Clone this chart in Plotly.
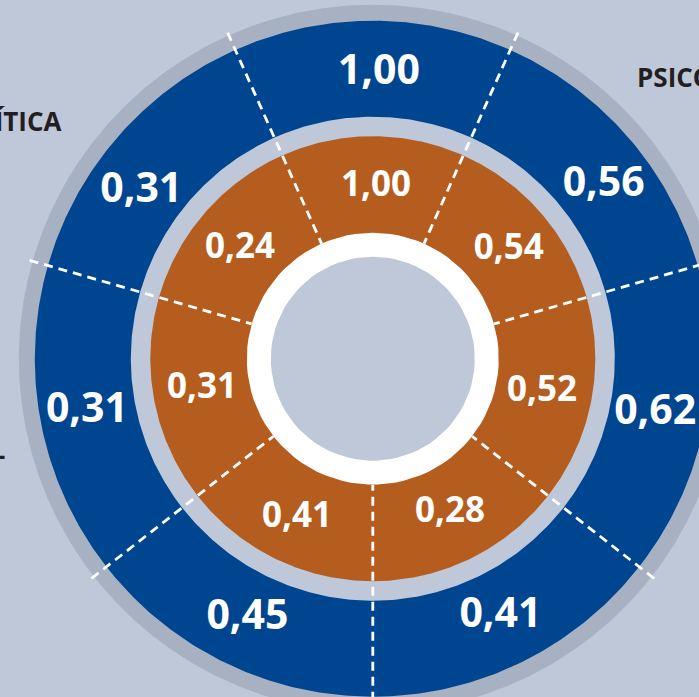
import numpy as np
import plotly.graph_objects as go

# ---------------- data ----------------
segment_start_deg = [-24, 24, 74, 128, 180, 232, 286]   # clockwise from top
outer_values = [1.00, 0.56, 0.62, 0.41, 0.45, 0.31, 0.31]
inner_values = [1.00, 0.54, 0.52, 0.28, 0.41, 0.31, 0.24]
side_labels = ["POLÍTICA", "PSICOLÓGICA", "SEXUAL"]

# ---------------- style ----------------
W, H = 699, 697
CX, CY = 372.8, 358.7          # centre in pixels (from top-left)
R_HOLE, R_WHITE, R_ORANGE = 102, 126, 222.5
R_BLUE_IN, R_BLUE_OUT, R_GRAY = 242, 338, 354
R_DASH = 357
BG = "#bfc8d8"
GRAY = "#a8b1c1"
BLUE = "#00458f"
ORANGE = "#b55d1e"
FS_OUT, FS_IN = 41, 35
# label placement (angle clockwise from top, radius in px)
outer_lab_deg = [1.2, 52.5, 100.3, 153.3, 206.1, 260.3, 306.5]
outer_lab_r = [289, 291, 287, 284, 285, 290, 288]
inner_lab_deg = [1.1, 50.6, 100.4, 153, 205.8, 260.7, 310.3]
inner_lab_r = [174, 176, 172, 170, 174, 173, 174]

seg_end_deg = segment_start_deg[1:] + [segment_start_deg[0] + 360]


def pol(r, deg):
    t = np.radians(deg)
    return np.asarray(r) * np.sin(t), np.asarray(r) * np.cos(t)


def sector(r0, r1, a0, a1, n=90):
    th = np.linspace(a0, a1, n)
    xo, yo = pol(r1, th)
    xi, yi = pol(r0, th[::-1])
    xs = np.concatenate([xo, xi, xo[:1]])
    ys = np.concatenate([yo, yi, yo[:1]])
    return list(xs), list(ys)


def ring_trace(r0, r1, starts, ends, color):
    X, Y = [], []
    for a0, a1 in zip(starts, ends):
        xs, ys = sector(r0, r1, a0, a1)
        X += xs + [None]
        Y += ys + [None]
    return go.Scatter(x=X, y=Y, mode="lines", fill="toself", fillcolor=color,
                      line=dict(width=0, color=color), hoverinfo="skip",
                      showlegend=False)


fig = go.Figure()
fig.add_trace(ring_trace(R_BLUE_OUT - 1, R_GRAY, [0], [360], GRAY))
fig.add_trace(ring_trace(R_BLUE_IN, R_BLUE_OUT, segment_start_deg, seg_end_deg, BLUE))
fig.add_trace(ring_trace(R_WHITE - 1, R_ORANGE, segment_start_deg, seg_end_deg, ORANGE))
fig.add_trace(ring_trace(R_HOLE, R_WHITE, [0], [360], "#ffffff"))

# dashed dividers
DX, DY = [], []
for a in segment_start_deg:
    x0, y0 = pol(R_DASH, a)
    x1, y1 = pol(R_WHITE, a)
    DX += [float(x0), float(x1), None]
    DY += [float(y0), float(y1), None]
fig.add_trace(go.Scatter(x=DX, y=DY, mode="lines",
                         line=dict(color="white", width=2.8, dash="9px,6px"),
                         hoverinfo="skip", showlegend=False))

# value labels
fmt = lambda v: f"{v:.2f}".replace(".", ",")
ox, oy = pol(outer_lab_r, np.array(outer_lab_deg))
ix, iy = pol(inner_lab_r, np.array(inner_lab_deg))
fig.add_trace(go.Scatter(x=ox, y=oy - 0.1 * FS_OUT, mode="text",
                         text=[fmt(v) for v in outer_values],
                         textposition="middle center",
                         textfont=dict(family="Open Sans", size=FS_OUT, color="white", weight=700),
                         hoverinfo="skip", showlegend=False))
fig.add_trace(go.Scatter(x=ix, y=iy - 0.08 * FS_IN, mode="text",
                         text=[fmt(v) for v in inner_values],
                         textposition="middle center",
                         textfont=dict(family="Open Sans", size=FS_IN, color="white", weight=700),
                         hoverinfo="skip", showlegend=False))

# category labels (partially outside view)
lab_font = dict(family="Open Sans", size=26, color="#231f20", weight=700)
fig.add_annotation(x=63.5 / W, y=1 - 121 / H, xref="paper", yref="paper",
                   text=side_labels[0], showarrow=False, xanchor="right",
                   yanchor="middle", borderpad=0, font=lab_font)
fig.add_annotation(x=636 / W, y=1 - 77 / H, xref="paper", yref="paper",
                   text=side_labels[1], showarrow=False, xanchor="left",
                   yanchor="middle", borderpad=0, font=lab_font)
fig.add_annotation(x=7 / W, y=1 - 449 / H, xref="paper", yref="paper",
                   text=side_labels[2], showarrow=False, xanchor="right",
                   yanchor="middle", borderpad=0, font=lab_font)

fig.update_layout(
    width=W, height=H, margin=dict(l=0, r=0, t=0, b=0),
    paper_bgcolor=BG, plot_bgcolor=BG,
    xaxis=dict(range=[-CX, W - CX], visible=False, fixedrange=True),
    yaxis=dict(range=[-(H - CY), CY], visible=False, fixedrange=True),
    showlegend=False,
)
fig.write_html(
    "out.html",
    config={"staticPlot": True},
    post_script="document.body.style.margin='0';document.body.style.background='" + BG + "';",
)
